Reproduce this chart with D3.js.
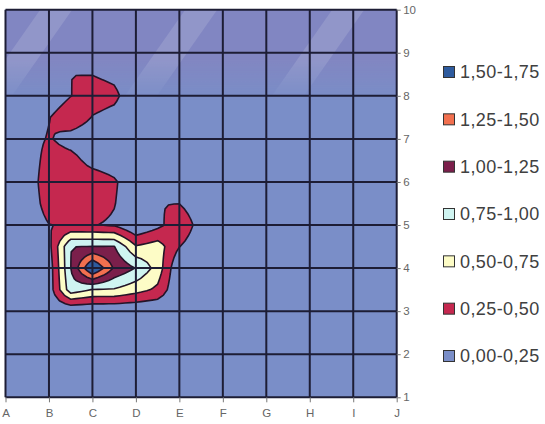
<!DOCTYPE html>
<html><head><meta charset="utf-8">
<script src="https://cdn.jsdelivr.net/npm/d3@7"></script>
<style>html,body{margin:0;padding:0;background:#fff;} svg{display:block;}</style>
</head><body>
<svg id="chart" width="545" height="424"></svg>
<script>
// ---- data ----
const columns = ["A","B","C","D","E","F","G","H","I","J"];
const rowTicks = [1,2,3,4,5,6,7,8,9,10];
const bandLabels = ["0,00-0,25","0,25-0,50","0,50-0,75","0,75-1,00","1,00-1,25","1,25-1,50","1,50-1,75"];
const bandThresholds = [0, 0.25, 0.5, 0.75, 1.0, 1.25, 1.5];
const bandColors = ["#7a8ec8","#c5284f","#fdfcc6","#cff4f1","#7b1f4b","#f2704f","#2e5b9e"];
// surface values at half-step nodes (columns A..J incl. midpoints), top row = row 10
const zHalfGrid = [
  [0.1,0.1,0.1,0.1,0.1,0.1,0.1,0.1,0.1,0.1,0.1,0.1,0.1,0.1,0.1,0.1,0.1,0.1,0.1],
  [0.1,0.1,0.1,0.1,0.1,0.1,0.1,0.1,0.1,0.1,0.1,0.1,0.1,0.1,0.1,0.1,0.1,0.1,0.1],
  [0.1,0.1,0.1,0.1,0.1,0.1,0.1,0.1,0.1,0.1,0.1,0.1,0.1,0.1,0.1,0.1,0.1,0.1,0.1],
  [0.1,0.1,0.1,0.25,0.245,0.2,0.1,0.1,0.1,0.1,0.1,0.1,0.1,0.1,0.1,0.1,0.1,0.1,0.1],
  [0.1,0.1,0.1,0.245,0.35,0.3,0.1,0.1,0.1,0.1,0.1,0.1,0.1,0.1,0.1,0.1,0.1,0.1,0.1],
  [0.1,0.1,0.24,0.4,0.24,0.18,0.1,0.1,0.1,0.1,0.1,0.1,0.1,0.1,0.1,0.1,0.1,0.1,0.1],
  [0.1,0.15,0.27,0.16,0.1,0.1,0.1,0.1,0.1,0.1,0.1,0.1,0.1,0.1,0.1,0.1,0.1,0.1,0.1],
  [0.1,0.1,0.35,0.33,0.17,0.13,0.1,0.1,0.1,0.1,0.1,0.1,0.1,0.1,0.1,0.1,0.1,0.1,0.1],
  [0.1,0.1,0.4,0.38,0.38,0.28,0.1,0.1,0.1,0.1,0.1,0.1,0.1,0.1,0.1,0.1,0.1,0.1,0.1],
  [0.1,0.1,0.35,0.35,0.35,0.26,0.1,0.245,0.248,0.1,0.1,0.1,0.1,0.1,0.1,0.1,0.1,0.1,0.1],
  [0.1,0.1,0.245,0.27,0.26,0.22,0.0,0.18,0.42,0.15,0.1,0.1,0.1,0.1,0.1,0.1,0.1,0.1,0.1],
  [0.1,0.1,0.17,0.995,1.005,1.01,0.52,0.62,0.255,0.1,0.1,0.1,0.1,0.1,0.1,0.1,0.1,0.1,0.1],
  [0.1,0.1,0.1,0.995,1.8,1.22,0.99,0.65,0.0,0.1,0.1,0.1,0.1,0.1,0.1,0.1,0.1,0.1,0.1],
  [0.1,0.1,0.1,0.9,0.74,0.73,0.6,0.45,0.0,0.1,0.1,0.1,0.1,0.1,0.1,0.1,0.1,0.1,0.1],
  [0.1,0.1,0.05,0.0,0.0,0.0,0.0,0.0,0.05,0.1,0.1,0.1,0.1,0.1,0.1,0.1,0.1,0.1,0.1],
  [0.1,0.1,0.1,0.1,0.1,0.1,0.1,0.1,0.1,0.1,0.1,0.1,0.1,0.1,0.1,0.1,0.1,0.1,0.1],
  [0.1,0.1,0.1,0.1,0.1,0.1,0.1,0.1,0.1,0.1,0.1,0.1,0.1,0.1,0.1,0.1,0.1,0.1,0.1],
  [0.1,0.1,0.1,0.1,0.1,0.1,0.1,0.1,0.1,0.1,0.1,0.1,0.1,0.1,0.1,0.1,0.1,0.1,0.1],
  [0.1,0.1,0.1,0.1,0.1,0.1,0.1,0.1,0.1,0.1,0.1,0.1,0.1,0.1,0.1,0.1,0.1,0.1,0.1]
];

// ---- layout ----
const svg = d3.select("#chart");
const plot = {left: 5.5, right: 396.7, top: 9.7, bottom: 397.3};
const FONT = "'Liberation Sans', Arial, sans-serif";
const xCat = d3.scalePoint().domain(columns).range([plot.left, plot.right]);
const yRow = d3.scaleLinear().domain([1, 10]).range([plot.bottom, plot.top]);
const nHalf = zHalfGrid.length - 1; // 18
const uScale = d3.scaleLinear().domain([0, nHalf]).range([plot.left, plot.right]);
const vScale = d3.scaleLinear().domain([0, nHalf]).range([plot.bottom, plot.top]);

const defs = svg.append("defs");
defs.append("clipPath").attr("id", "plotClip").append("rect")
  .attr("x", plot.left).attr("y", plot.top)
  .attr("width", plot.right - plot.left).attr("height", plot.bottom - plot.top);
const fade = defs.append("linearGradient").attr("id", "tintFade")
  .attr("x1", 0).attr("y1", 0).attr("x2", 0).attr("y2", 1);
fade.append("stop").attr("offset", "0%").attr("stop-color", "#fff").attr("stop-opacity", 1);
fade.append("stop").attr("offset", "60%").attr("stop-color", "#fff").attr("stop-opacity", 1);
fade.append("stop").attr("offset", "100%").attr("stop-color", "#fff").attr("stop-opacity", 0);
defs.append("mask").attr("id", "tintMask").append("rect")
  .attr("x", 0).attr("y", 0).attr("width", 545).attr("height", 100).attr("fill", "url(#tintFade)");

// plot background (lowest band)
svg.append("rect").attr("x", plot.left).attr("y", plot.top)
  .attr("width", plot.right - plot.left).attr("height", plot.bottom - plot.top)
  .attr("fill", bandColors[0]);

// faint backdrop tint in the upper plot (diagonal bands)
const tint = svg.append("g").attr("clip-path", "url(#plotClip)").attr("mask", "url(#tintMask)");
tint.append("rect").attr("x", plot.left).attr("y", plot.top).attr("width", plot.right - plot.left)
  .attr("height", 95).attr("fill", "#a06aa8").attr("opacity", 0.2);
const stripeStarts = [-23, 122, 269, 415];
tint.selectAll("path.stripe").data(stripeStarts).join("path").attr("class", "stripe")
  .attr("d", s => `M${s},100 L${s + 32},100 L${s + 32 + 70},0 L${s + 70},0 Z`)
  .attr("fill", "#ffffff").attr("opacity", 0.13);

// ---- contours ----
const F = 4;
const fw = nHalf * F + 1, fh = nHalf * F + 1;
function nodeVal(u, v) { return zHalfGrid[nHalf - v][u]; }
const fine = new Float64Array(fw * fh);
for (let r = 0; r < fh; r++) {
  const v = nHalf - r / F;
  for (let c = 0; c < fw; c++) {
    const u = c / F;
    const u0 = Math.min(Math.floor(u), nHalf - 1), v0 = Math.min(Math.floor(v), nHalf - 1);
    const a = u - u0, b = v - v0;
    fine[r * fw + c] = (1 - a) * (1 - b) * nodeVal(u0, v0) + a * (1 - b) * nodeVal(u0 + 1, v0)
      + (1 - a) * b * nodeVal(u0, v0 + 1) + a * b * nodeVal(u0 + 1, v0 + 1);
  }
}
const contours = d3.contours().size([fw, fh]).thresholds(bandThresholds.slice(1))(fine);
const proj = d3.geoTransform({
  point(x, y) { this.stream.point(uScale((x - 0.5) / F), vScale(nHalf - (y - 0.5) / F)); }
});
const path = d3.geoPath(proj);

svg.append("g").attr("clip-path", "url(#plotClip)")
  .selectAll("path").data(contours).join("path")
  .attr("d", path)
  .attr("fill", d => bandColors[bandThresholds.indexOf(d.value)])
  .attr("stroke", "#241428").attr("stroke-width", 1.6).attr("stroke-linejoin", "miter");

// ---- grid ----
const grid = svg.append("g").attr("stroke", "#1d1d35").attr("stroke-width", 2);
grid.selectAll("line.v").data(columns).join("line").attr("class", "v")
  .attr("x1", d => xCat(d)).attr("x2", d => xCat(d))
  .attr("y1", plot.top).attr("y2", plot.bottom);
grid.selectAll("line.h").data(rowTicks).join("line").attr("class", "h")
  .attr("x1", plot.left).attr("x2", plot.right)
  .attr("y1", d => yRow(d)).attr("y2", d => yRow(d));

// ---- axes ----
const xAxis = svg.append("g").attr("transform", `translate(0,${plot.bottom})`)
  .call(d3.axisBottom(xCat).tickSize(5).tickPadding(7));
const yAxis = svg.append("g").attr("transform", `translate(${plot.right},0)`)
  .call(d3.axisRight(yRow).tickValues(rowTicks).tickFormat(d3.format("d")).tickSize(4).tickPadding(2.5));
[xAxis, yAxis].forEach(a => {
  a.select(".domain").remove();
  a.selectAll(".tick line").attr("stroke", "#777");
  a.selectAll("text").attr("fill", "#666").style("font-family", FONT).style("font-size", "11.5px");
});

// ---- legend ----
const legendOrder = d3.range(bandLabels.length).reverse();
const lg = svg.append("g");
const ly = d3.scaleLinear().domain([0, legendOrder.length - 1]).range([72, 356]);
legendOrder.forEach((bi, k) => {
  const y = ly(k);
  lg.append("rect").attr("x", 443.5).attr("y", y - 5.5).attr("width", 11).attr("height", 11)
    .attr("fill", bandColors[bi]).attr("stroke", "#333").attr("stroke-width", 1);
  lg.append("text").attr("x", 460).attr("y", y).attr("dy", "0.36em")
    .attr("fill", "#404040").style("font-family", FONT).style("font-size", "18px")
    .style("letter-spacing", "0.4px")
    .text(bandLabels[bi]);
});
</script>
</body></html>
